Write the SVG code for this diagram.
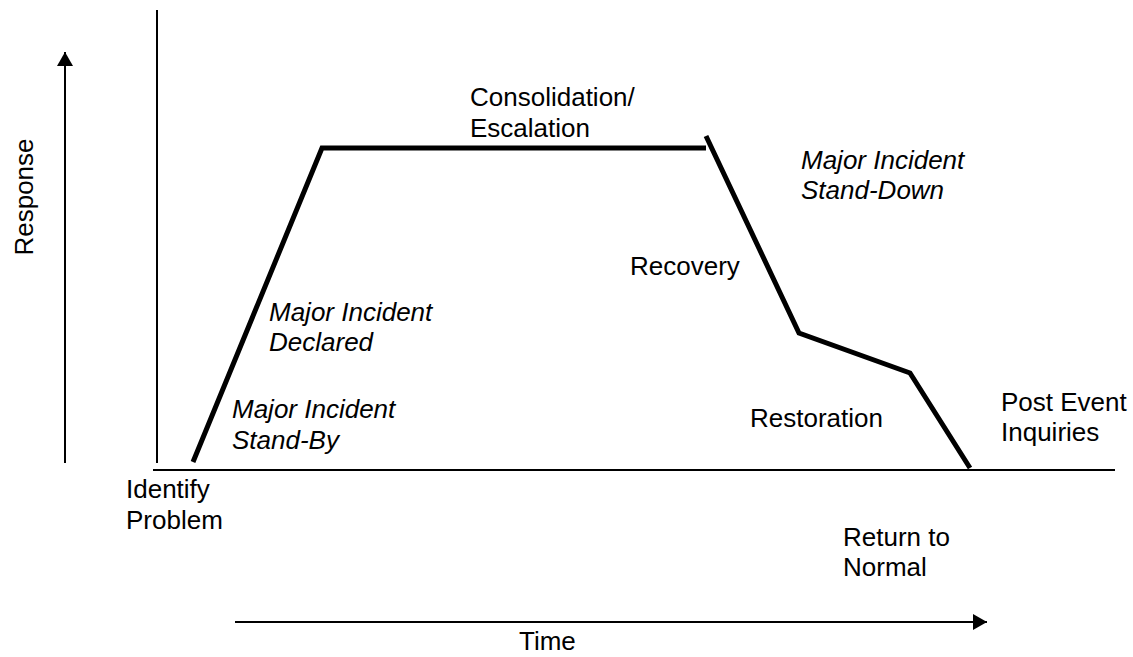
<svg xmlns="http://www.w3.org/2000/svg" width="1133" height="657" viewBox="0 0 1133 657">
<defs>
<style>
text{font-family:"Liberation Sans",Arial,sans-serif;font-size:26px;fill:#000}
.it{font-style:italic}
.thin{stroke:#000;stroke-width:2;fill:none}
.thick{stroke:#000;stroke-width:5;fill:none;stroke-linejoin:miter}
</style>
<marker id="ah" viewBox="0 0 14 16" refX="14" refY="8" markerWidth="14" markerHeight="16" markerUnits="userSpaceOnUse" orient="auto">
<path d="M0,0 L14,8 L0,16 Z" fill="#000"/>
</marker>
</defs>
<rect width="1133" height="657" fill="#fff"/>
<g id="connectors">
<line class="thin" x1="65" y1="463" x2="65" y2="52" marker-end="url(#ah)"/>
<line class="thin" x1="157" y1="10" x2="157" y2="463"/>
<line class="thin" x1="153" y1="470" x2="1115" y2="470"/>
<line class="thin" x1="235" y1="622" x2="987" y2="622" marker-end="url(#ah)"/>
<polyline class="thick" points="193,462 322,148 706,148"/>
<polyline class="thick" points="706,136 799,333 910,373 970,468"/>
</g>
<g id="response"><text transform="translate(33,197) rotate(-90)" text-anchor="middle">Response</text></g>
<g id="consolidation"><text x="470" y="106">Consolidation/</text><text x="470" y="137">Escalation</text></g>
<g id="standdown"><text class="it" x="801" y="169">Major Incident</text><text class="it" x="801" y="199">Stand-Down</text></g>
<g id="recovery"><text x="630" y="275">Recovery</text></g>
<g id="declared"><text class="it" x="269" y="321">Major Incident</text><text class="it" x="269" y="351">Declared</text></g>
<g id="standby"><text class="it" x="232" y="418">Major Incident</text><text class="it" x="232" y="449">Stand-By</text></g>
<g id="restoration"><text x="750" y="427">Restoration</text></g>
<g id="postevent"><text x="1001" y="411">Post Event</text><text x="1001" y="441">Inquiries</text></g>
<g id="identify"><text x="126" y="498">Identify</text><text x="126" y="529">Problem</text></g>
<g id="return"><text x="843" y="546">Return to</text><text x="843" y="576">Normal</text></g>
<g id="time"><text x="519" y="650">Time</text></g>
</svg>
